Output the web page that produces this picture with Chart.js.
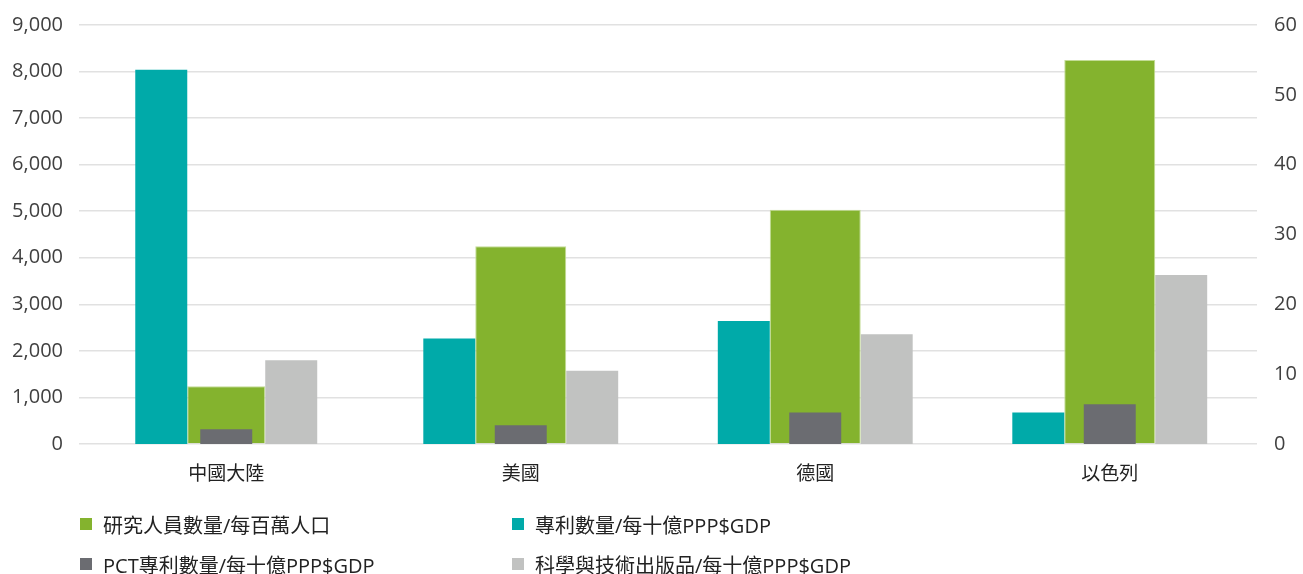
<!DOCTYPE html>
<html>
  <head>
    <meta charset="utf-8" />
    <title>研發指標比較</title>
    <style>
      html, body { margin: 0; padding: 0; background: #fff; }
      #wrap { position: relative; width: 1303px; height: 574px; }
      #legend { position: absolute; left: 0; top: 0; width: 1303px; height: 574px; pointer-events: none;
        font-family: "Open Sans", "Noto Sans CJK TC", sans-serif; font-size: 20px; color: #222; }
      .item { position: absolute; display: flex; align-items: center; white-space: nowrap; }
      .box { width: 12px; height: 12px; margin-right: 11px; }
    </style>
  </head>
  <body>
    <div id="wrap">
      <canvas id="rdChart" width="1303" height="574"></canvas>
      <div id="legend"></div>
    </div>

    <script src="https://cdn.jsdelivr.net/npm/chart.js"></script>
    <script>
      const regions = ["中國大陸", "美國", "德國", "以色列"];

      // left axis: researchers per million people
      const researchers = [1240, 4250, 5030, 8250];
      // right axis: per billion PPP$ GDP
      const patents = [53.6, 15.1, 17.6, 4.5];
      const pctPatents = [2.1, 2.7, 4.5, 5.7];
      const publications = [12.0, 10.5, 15.7, 24.2];

      const leftTicks = [0, 1000, 2000, 3000, 4000, 5000, 6000, 7000, 8000, 9000];
      const rightTicks = [0, 10, 20, 30, 40, 50, 60];

      const names = {
        researchers: "研究人員數量/每百萬人口",
        patents: "專利數量/每十億PPP$GDP",
        pct: "PCT專利數量/每十億PPP$GDP",
        pubs: "科學與技術出版品/每十億PPP$GDP",
      };
      const colors = {
        researchers: "#84b32e",
        patents: "#00aaa9",
        pct: "#6b6c71",
        pubs: "#c1c2c1",
      };

      // the first group (中國大陸) is drawn with a narrower green bar than the rest,
      // so each series is split into two datasets with their own bar sizing
      const pick = (arr, first) => arr.map((v, i) => ((i === 0) === first ? v : null));
      const sizing = {
        first: { cat: 0.662, thin: 0.8, wide: 1.2 },
        rest: { cat: 0.728, thin: 0.727, wide: 1.273 },
      };

      const datasets = [];
      function addSeries(key, values, axis, stack, wide, extra) {
        [true, false].forEach((first) => {
          const s = first ? sizing.first : sizing.rest;
          datasets.push(Object.assign({
            label: names[key],
            data: pick(values, first),
            backgroundColor: colors[key],
            yAxisID: axis,
            stack: stack,
            categoryPercentage: s.cat,
            barPercentage: wide ? s.wide : s.thin,
          }, extra || {}));
        });
      }
      addSeries("patents", patents, "y1", "a", false);
      addSeries("pct", pctPatents, "y1", "b", false);
      addSeries("researchers", researchers, "y", "b", true, { borderColor: "#c3dc96", borderWidth: 1 });
      addSeries("pubs", publications, "y1", "c", false);

      const tickFont = { family: "'Open Sans', 'Noto Sans CJK TC'", size: 20 };

      const ctx = document.getElementById("rdChart").getContext("2d");
      const chart = new Chart(ctx, {
        type: "bar",
        data: { labels: regions, datasets: datasets },
        options: {
          responsive: false,
          animation: false,
          plugins: {
            legend: { display: false },
            tooltip: { enabled: false },
          },
          scales: {
            x: {
              grid: { display: false },
              border: { display: false },
              ticks: {
                color: "#222",
                padding: 9,
                font: { family: "'Noto Sans CJK TC', 'Open Sans'", size: 19 },
              },
              afterFit: (scale) => { scale.height = 130; },
            },
            y: {
              position: "left",
              min: 0,
              max: 9000,
              stacked: false,
              afterBuildTicks: (scale) => {
                scale.ticks = leftTicks.map((v) => ({ value: v }));
              },
              grid: { color: "#e1e1e1", lineWidth: 1.5, drawTicks: false },
              border: { display: false },
              ticks: {
                color: "#404040",
                padding: 16,
                font: tickFont,
                callback: (v) => v.toLocaleString("en-US"),
              },
              afterFit: (scale) => { scale.width = 79; scale.paddingTop = 25; },
            },
            y1: {
              position: "right",
              min: 0,
              max: 60,
              stacked: false,
              afterBuildTicks: (scale) => {
                scale.ticks = rightTicks.map((v) => ({ value: v }));
              },
              grid: { display: false, drawTicks: false },
              border: { display: false },
              ticks: {
                color: "#404040",
                padding: 17,
                font: tickFont,
              },
              afterFit: (scale) => { scale.width = 46; scale.paddingTop = 25; },
            },
          },
        },
      });

      // legend laid out in two columns under the plot
      const legendItems = [
        { key: "researchers", left: 80, top: 524 },
        { key: "patents", left: 512, top: 524 },
        { key: "pct", left: 80, top: 564 },
        { key: "pubs", left: 512, top: 564 },
      ];
      const legend = document.getElementById("legend");
      legendItems.forEach((it) => {
        const el = document.createElement("div");
        el.className = "item";
        el.style.left = it.left + "px";
        el.style.top = it.top - 15 + "px";
        el.style.height = "30px";
        el.innerHTML =
          '<span class="box" style="background:' + colors[it.key] + '"></span><span>' + names[it.key] + "</span>";
        legend.appendChild(el);
      });
    </script>
  </body>
</html>
